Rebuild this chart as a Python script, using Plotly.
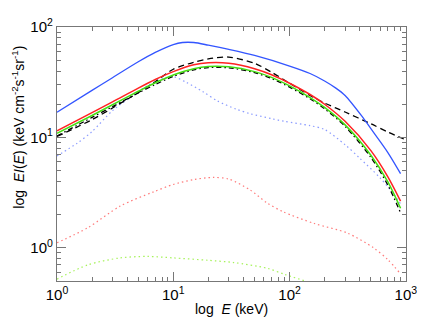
import plotly.graph_objects as go

# energies (keV) and EI(E) values
e_blue = [1, 2, 3, 5, 7, 10, 12, 15, 20, 30, 50, 100, 150, 200, 250, 300, 420, 500, 700, 900]
blue = [16.9, 26.7, 34.8, 48.5, 59, 69.5, 72.5, 72.5, 68.6, 62.8, 55.4, 44.4, 38, 32.5, 28, 24, 15.5, 12, 7.3, 4.7]

e_sm = [1, 2, 3, 5, 7, 10, 15, 20, 30, 50, 70, 100, 150, 200, 300, 500, 700, 900]
red = [11.5, 16.8, 21, 28, 33.5, 39.5, 45.5, 47.5, 47, 42, 37, 31, 24.5, 20, 14, 7.6, 4.4, 2.65]
green = [10.9, 15.8, 19.8, 26.2, 31.3, 36.8, 42, 44, 43.7, 39.5, 35, 29.3, 23, 18.7, 13, 6.9, 3.95, 2.28]
black_dd = [10.3, 15.2, 19, 25.3, 30.2, 35.7, 41, 43, 42.8, 38.7, 34.2, 28.6, 22.4, 18.2, 12.6, 6.6, 3.7, 2.07]

e_dash = [1, 2, 3, 5, 7, 10, 15, 20, 30, 50, 70, 100, 150, 200, 300, 500, 700, 1000]
black_dash = [10.2, 14.5, 18.5, 25.5, 32, 41.5, 48, 51.5, 53.5, 47, 39, 31, 24, 20.5, 17, 13.3, 11.2, 9.5]

e_bdot = [1, 1.5, 2, 3, 4.5, 6, 8, 10, 13, 18, 24, 35, 46, 70, 90, 150, 200, 300, 400, 600, 800, 900]
blue_dot = [6.8, 8.9, 11.3, 17.5, 24, 29.5, 34, 35.5, 31.5, 26, 21.4, 18, 16.4, 14.8, 14, 12.8, 11.8, 8.6, 6.5, 4.3, 3.0, 2.5]

e_rdot = [1, 1.84, 3.5, 6.8, 10, 15, 22, 30, 46, 64, 88, 163, 314, 527, 700, 900]
red_dot = [1.11, 1.52, 2.39, 3.22, 3.75, 4.15, 4.34, 4.2, 3.33, 2.55, 2.12, 1.66, 1.36, 1.0, 0.78, 0.58]

e_gdot = [1, 1.84, 3.5, 6, 10, 20, 33, 64, 91, 135, 200]
green_dot = [0.52, 0.70, 0.81, 0.835, 0.81, 0.77, 0.735, 0.653, 0.573, 0.5, 0.42]

fig = go.Figure()


def curve(x, y, color, width, dash="solid"):
    return go.Scatter(x=x, y=y, mode="lines",
                      line=dict(color=color, width=width, dash=dash,
                                shape="spline", smoothing=0.8))


# dotted components
fig.add_trace(curve(e_bdot, blue_dot, "#8c9cff", 1.2, "1.5px,3px"))
fig.add_trace(curve(e_rdot, red_dot, "#ff7a7a", 1.2, "1.5px,3px"))
fig.add_trace(curve(e_gdot, green_dot, "#a6f25a", 1.2, "1.5px,3px"))

# totals
fig.add_trace(curve(e_dash, black_dash, "black", 1.3, "6px,4px"))
fig.add_trace(curve(e_sm, black_dd, "black", 1.3, "5px,3px,1.5px,3px"))
fig.add_trace(curve(e_sm, green, "#44dd11", 1.5))
fig.add_trace(curve(e_sm, red, "#ff2222", 1.5))
fig.add_trace(curve(e_blue, blue, "#3355ff", 1.3))

axis_common = dict(
    type="log",
    showline=True, linecolor="#777777", linewidth=1.2, mirror="allticks",
    ticks="inside", ticklen=9, tickcolor="#777777",
    minor=dict(ticks="inside", ticklen=4, tickcolor="#777777", dtick="D1"),
    showgrid=False, zeroline=False,
    ticklabeloverflow="allow",
    tickfont=dict(family="Liberation Sans", size=15, color="black"),
)

fig.update_xaxes(
    **axis_common,
    range=[0, 3.001],
    tickvals=[1, 10, 100, 1000],
    ticktext=["10<sup>0</sup>", "10<sup>1</sup>", "10<sup>2</sup>", "10<sup>3</sup>"],
)
fig.update_yaxes(
    **axis_common,
    range=[-0.301, 2.001],
    tickvals=[1, 10, 100],
    ticktext=["10<sup>0</sup>", "10<sup>1</sup>", "10<sup>2</sup>"],
)

fig.add_annotation(
    text="log  <i>E</i> (keV)", xref="paper", yref="paper",
    x=0.5, y=-0.109, xanchor="center", yanchor="middle", showarrow=False,
    font=dict(family="Liberation Sans", size=14, color="black"),
)
fig.add_annotation(
    text="log  <i>EI</i>(<i>E</i>) (keV cm<sup>-2</sup>s<sup>-1</sup>sr<sup>-1</sup>)",
    xref="paper", yref="paper", x=-0.112, y=0.607, textangle=-90,
    xanchor="center", yanchor="middle", showarrow=False,
    font=dict(family="Liberation Sans", size=14, color="black"),
)

# the page body adds an 8px offset, so the figure is shrunk by that much
fig.update_layout(
    width=417, height=315,
    margin=dict(l=49, r=14, t=8, b=42),
    plot_bgcolor="white", paper_bgcolor="white",
    showlegend=False,
)

fig.write_html("out.html")
